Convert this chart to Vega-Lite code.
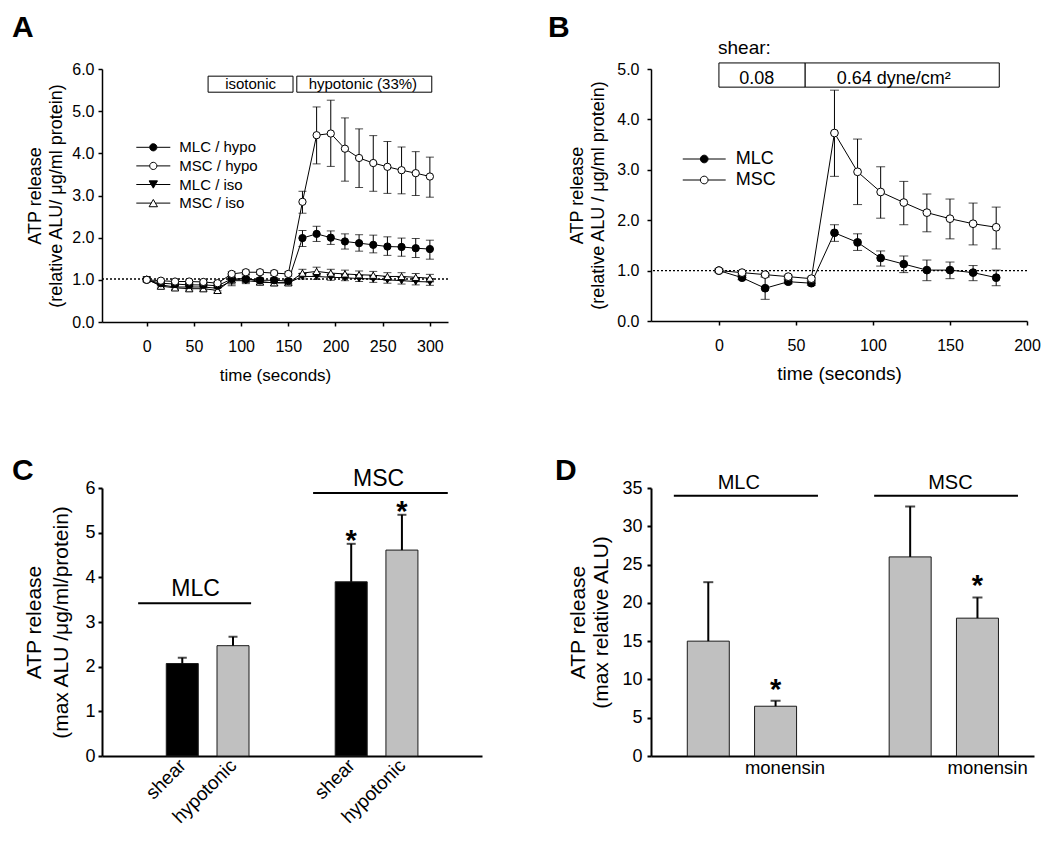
{
"$schema": "https://vega.github.io/schema/vega-lite/v6.json",
"background": "white",
"autosize": {"type": "pad"},
"padding": {"left": 12, "top": 13, "right": 5, "bottom": 5},
"columns": 2,
"spacing": {"row": 166, "column": 169},
"bounds": "flush",
"datasets": {
"A": [
{"series":"MLC / iso","t":0,"v":1.00,"lo":0.96,"hi":1.04},{"series":"MLC / iso","t":15,"v":0.88,"lo":0.83,"hi":0.93},{"series":"MLC / iso","t":30,"v":0.83,"lo":0.78,"hi":0.88},{"series":"MLC / iso","t":45,"v":0.83,"lo":0.78,"hi":0.88},{"series":"MLC / iso","t":60,"v":0.83,"lo":0.78,"hi":0.88},{"series":"MLC / iso","t":75,"v":0.80,"lo":0.74,"hi":0.86},{"series":"MLC / iso","t":90,"v":0.98,"lo":0.90,"hi":1.06},{"series":"MLC / iso","t":105,"v":0.98,"lo":0.91,"hi":1.05},{"series":"MLC / iso","t":120,"v":0.95,"lo":0.89,"hi":1.01},{"series":"MLC / iso","t":135,"v":0.93,"lo":0.87,"hi":0.99},{"series":"MLC / iso","t":150,"v":0.93,"lo":0.88,"hi":0.98},{"series":"MLC / iso","t":165,"v":1.08,"lo":1.02,"hi":1.14},{"series":"MLC / iso","t":180,"v":1.08,"lo":1.01,"hi":1.15},{"series":"MLC / iso","t":195,"v":1.06,"lo":0.99,"hi":1.13},{"series":"MLC / iso","t":210,"v":1.05,"lo":0.98,"hi":1.12},{"series":"MLC / iso","t":225,"v":1.03,"lo":0.96,"hi":1.10},{"series":"MLC / iso","t":240,"v":1.02,"lo":0.94,"hi":1.10},{"series":"MLC / iso","t":255,"v":1.00,"lo":0.92,"hi":1.08},{"series":"MLC / iso","t":270,"v":0.98,"lo":0.90,"hi":1.06},{"series":"MLC / iso","t":285,"v":0.96,"lo":0.88,"hi":1.04},{"series":"MLC / iso","t":300,"v":0.95,"lo":0.87,"hi":1.03},
{"series":"MSC / iso","t":0,"v":1.02,"lo":0.98,"hi":1.06},{"series":"MSC / iso","t":15,"v":0.85,"lo":0.80,"hi":0.90},{"series":"MSC / iso","t":30,"v":0.81,"lo":0.76,"hi":0.86},{"series":"MSC / iso","t":45,"v":0.79,"lo":0.74,"hi":0.84},{"series":"MSC / iso","t":60,"v":0.79,"lo":0.74,"hi":0.84},{"series":"MSC / iso","t":75,"v":0.75,"lo":0.69,"hi":0.81},{"series":"MSC / iso","t":90,"v":1.00,"lo":0.86,"hi":1.14},{"series":"MSC / iso","t":105,"v":1.04,"lo":0.94,"hi":1.14},{"series":"MSC / iso","t":120,"v":0.95,"lo":0.88,"hi":1.02},{"series":"MSC / iso","t":135,"v":0.93,"lo":0.86,"hi":1.00},{"series":"MSC / iso","t":150,"v":0.93,"lo":0.87,"hi":0.99},{"series":"MSC / iso","t":165,"v":1.16,"lo":1.07,"hi":1.25},{"series":"MSC / iso","t":180,"v":1.20,"lo":1.10,"hi":1.30},{"series":"MSC / iso","t":195,"v":1.16,"lo":1.07,"hi":1.25},{"series":"MSC / iso","t":210,"v":1.14,"lo":1.05,"hi":1.23},{"series":"MSC / iso","t":225,"v":1.12,"lo":1.03,"hi":1.21},{"series":"MSC / iso","t":240,"v":1.11,"lo":1.02,"hi":1.20},{"series":"MSC / iso","t":255,"v":1.08,"lo":0.99,"hi":1.17},{"series":"MSC / iso","t":270,"v":1.08,"lo":0.99,"hi":1.17},{"series":"MSC / iso","t":285,"v":1.06,"lo":0.97,"hi":1.15},{"series":"MSC / iso","t":300,"v":1.04,"lo":0.95,"hi":1.13},
{"series":"MLC / hypo","t":0,"v":1.00,"lo":0.97,"hi":1.03},{"series":"MLC / hypo","t":15,"v":0.92,"lo":0.87,"hi":0.97},{"series":"MLC / hypo","t":30,"v":0.90,"lo":0.85,"hi":0.95},{"series":"MLC / hypo","t":45,"v":0.88,"lo":0.83,"hi":0.93},{"series":"MLC / hypo","t":60,"v":0.88,"lo":0.83,"hi":0.93},{"series":"MLC / hypo","t":75,"v":0.86,"lo":0.81,"hi":0.91},{"series":"MLC / hypo","t":90,"v":1.02,"lo":0.95,"hi":1.09},{"series":"MLC / hypo","t":105,"v":1.02,"lo":0.95,"hi":1.09},{"series":"MLC / hypo","t":120,"v":0.99,"lo":0.93,"hi":1.05},{"series":"MLC / hypo","t":135,"v":0.99,"lo":0.93,"hi":1.05},{"series":"MLC / hypo","t":150,"v":0.97,"lo":0.92,"hi":1.02},{"series":"MLC / hypo","t":165,"v":1.99,"lo":1.79,"hi":2.17},{"series":"MLC / hypo","t":180,"v":2.09,"lo":1.91,"hi":2.27},{"series":"MLC / hypo","t":195,"v":2.00,"lo":1.84,"hi":2.16},{"series":"MLC / hypo","t":210,"v":1.91,"lo":1.73,"hi":2.09},{"series":"MLC / hypo","t":225,"v":1.87,"lo":1.68,"hi":2.07},{"series":"MLC / hypo","t":240,"v":1.83,"lo":1.64,"hi":2.06},{"series":"MLC / hypo","t":255,"v":1.79,"lo":1.58,"hi":2.02},{"series":"MLC / hypo","t":270,"v":1.78,"lo":1.56,"hi":1.99},{"series":"MLC / hypo","t":285,"v":1.75,"lo":1.53,"hi":1.98},{"series":"MLC / hypo","t":300,"v":1.73,"lo":1.49,"hi":1.94},
{"series":"MSC / hypo","t":0,"v":1.00,"lo":0.97,"hi":1.03},{"series":"MSC / hypo","t":15,"v":0.98,"lo":0.94,"hi":1.02},{"series":"MSC / hypo","t":30,"v":0.96,"lo":0.92,"hi":1.00},{"series":"MSC / hypo","t":45,"v":0.96,"lo":0.92,"hi":1.00},{"series":"MSC / hypo","t":60,"v":0.95,"lo":0.91,"hi":0.99},{"series":"MSC / hypo","t":75,"v":0.92,"lo":0.88,"hi":0.96},{"series":"MSC / hypo","t":90,"v":1.14,"lo":1.09,"hi":1.19},{"series":"MSC / hypo","t":105,"v":1.18,"lo":1.13,"hi":1.23},{"series":"MSC / hypo","t":120,"v":1.18,"lo":1.13,"hi":1.23},{"series":"MSC / hypo","t":135,"v":1.16,"lo":1.11,"hi":1.21},{"series":"MSC / hypo","t":150,"v":1.14,"lo":1.09,"hi":1.19},{"series":"MSC / hypo","t":165,"v":2.85,"lo":2.58,"hi":3.10},{"series":"MSC / hypo","t":180,"v":4.43,"lo":3.75,"hi":5.10},{"series":"MSC / hypo","t":195,"v":4.47,"lo":3.69,"hi":5.26},{"series":"MSC / hypo","t":210,"v":4.11,"lo":3.34,"hi":4.84},{"series":"MSC / hypo","t":225,"v":3.89,"lo":3.19,"hi":4.58},{"series":"MSC / hypo","t":240,"v":3.77,"lo":3.10,"hi":4.42},{"series":"MSC / hypo","t":255,"v":3.68,"lo":3.05,"hi":4.28},{"series":"MSC / hypo","t":270,"v":3.60,"lo":3.04,"hi":4.15},{"series":"MSC / hypo","t":285,"v":3.53,"lo":3.00,"hi":4.04},{"series":"MSC / hypo","t":300,"v":3.45,"lo":2.96,"hi":3.91}
],
"Abox": [
{"label":"isotonic","x1":65,"x2":155,"y1":5.45,"y2":5.83,"tx":110,"ty":5.64},
{"label":"hypotonic (33%)","x1":159,"x2":302,"y1":5.45,"y2":5.83,"tx":229,"ty":5.64}
],
"B": [
{"series":"MLC","t":0,"v":1.00,"lo":0.97,"hi":1.03},{"series":"MLC","t":15,"v":0.86,"lo":0.82,"hi":0.90},{"series":"MLC","t":30,"v":0.65,"lo":0.43,"hi":0.87},{"series":"MLC","t":45,"v":0.78,"lo":0.74,"hi":0.82},{"series":"MLC","t":60,"v":0.75,"lo":0.71,"hi":0.79},{"series":"MLC","t":75,"v":1.75,"lo":1.58,"hi":1.91},{"series":"MLC","t":90,"v":1.56,"lo":1.40,"hi":1.73},{"series":"MLC","t":105,"v":1.25,"lo":1.09,"hi":1.39},{"series":"MLC","t":120,"v":1.13,"lo":0.96,"hi":1.29},{"series":"MLC","t":135,"v":1.01,"lo":0.80,"hi":1.21},{"series":"MLC","t":150,"v":1.01,"lo":0.84,"hi":1.17},{"series":"MLC","t":165,"v":0.96,"lo":0.80,"hi":1.10},{"series":"MLC","t":180,"v":0.86,"lo":0.70,"hi":1.01},
{"series":"MSC","t":0,"v":1.00,"lo":0.97,"hi":1.03},{"series":"MSC","t":15,"v":0.96,"lo":0.93,"hi":0.99},{"series":"MSC","t":30,"v":0.92,"lo":0.89,"hi":0.95},{"series":"MSC","t":45,"v":0.88,"lo":0.85,"hi":0.91},{"series":"MSC","t":60,"v":0.84,"lo":0.81,"hi":0.87},{"series":"MSC","t":75,"v":3.73,"lo":2.87,"hi":4.58},{"series":"MSC","t":90,"v":2.96,"lo":2.31,"hi":3.61},{"series":"MSC","t":105,"v":2.56,"lo":2.04,"hi":3.06},{"series":"MSC","t":120,"v":2.35,"lo":1.91,"hi":2.77},{"series":"MSC","t":135,"v":2.15,"lo":1.77,"hi":2.52},{"series":"MSC","t":150,"v":2.03,"lo":1.63,"hi":2.42},{"series":"MSC","t":165,"v":1.93,"lo":1.51,"hi":2.34},{"series":"MSC","t":180,"v":1.86,"lo":1.43,"hi":2.26}
],
"Bbox": [
{"label":"0.08","x1":0,"x2":56,"y1":4.64,"y2":5.12,"tx":24.5,"ty":4.81},
{"label":"0.64 dyne/cm²","x1":56,"x2":182,"y1":4.64,"y2":5.12,"tx":113.5,"ty":4.81}
],
"Bnote": [{"label":"shear:","tx":-0.6,"ty":5.42}],
"C": [
{"cell":"MLC","cond":"shear","p":1,"v":2.07,"hi":2.2,"sig":""},
{"cell":"MLC","cond":"hypotonic","p":2,"v":2.47,"hi":2.67,"sig":""},
{"cell":"MSC","cond":"shear","p":4.33,"v":3.9,"hi":4.75,"sig":"*"},
{"cell":"MSC","cond":"hypotonic","p":5.33,"v":4.61,"hi":5.40,"sig":"*"}
],
"Cgrp": [
{"label":"MLC","x1":0.13,"x2":2.357,"ly":3.42,"tx":1.263,"ty":3.73},
{"label":"MSC","x1":3.579,"x2":6.234,"ly":5.89,"tx":4.871,"ty":6.21}
],
"D": [
{"cell":"MLC","cond":"control","p":1,"v":15.0,"hi":22.7,"sig":""},
{"cell":"MLC","cond":"monensin","p":2,"v":6.5,"hi":7.2,"sig":"*"},
{"cell":"MSC","cond":"control","p":4,"v":26.0,"hi":32.6,"sig":""},
{"cell":"MSC","cond":"monensin","p":5,"v":18.0,"hi":20.7,"sig":"*"}
],
"Dgrp": [
{"label":"MLC","x1":0.488,"x2":2.63,"ly":34.0,"tx":1.453,"ty":35.7},
{"label":"MSC","x1":3.465,"x2":5.602,"ly":34.0,"tx":4.598,"ty":35.7}
]
},
"concat": [
{
"width": 346, "height": 253,
"title": {"text":"A","anchor":"start","frame":"group","dx":-90,"offset":-6,"baseline":"alphabetic","fontSize":30,"fontWeight":"bold","color":"black","font":"Liberation Sans"},
"resolve": {"scale": {"shape":"independent","fill":"independent","size":"independent"}},
"layer": [
{"data":{"name":"A"},"mark":{"type":"line","color":"black","strokeWidth":1},
"encoding":{
"x":{"field":"t","type":"quantitative","scale":{"domain":[-47.4,319.2],"nice":false,"zero":false},"axis":{"values":[0,50,100,150,200,250,300],"title":"time (seconds)","labelPadding":12,"titlePadding":13}},
"y":{"field":"v","type":"quantitative","scale":{"domain":[0,6],"nice":false,"zero":false},"axis":{"values":[0,1,2,3,4,5,6],"tickCount":7,"format":".1f","title":["ATP release","(relative ALU/ μg/ml protein)"],"titleFontSize":18,"titleLineHeight":21.5,"titlePadding":6,"labelPadding":4}},
"detail":{"field":"series","type":"nominal"}}},
{"data":{"values":[{"ref":1.02}]},"mark":{"type":"rule","stroke":"black","strokeWidth":1.3,"strokeDash":[2,2]},"encoding":{"y":{"field":"ref","type":"quantitative"}}},
{"data":{"name":"A"},"mark":{"type":"rule","stroke":"black","strokeWidth":1},"encoding":{"x":{"field":"t","type":"quantitative"},"y":{"field":"lo","type":"quantitative"},"y2":{"field":"hi"}}},
{"data":{"name":"A"},"mark":{"type":"tick","orient":"horizontal","size":8,"thickness":1,"color":"black"},"encoding":{"x":{"field":"t","type":"quantitative"},"y":{"field":"lo","type":"quantitative"}}},
{"data":{"name":"A"},"mark":{"type":"tick","orient":"horizontal","size":8,"thickness":1,"color":"black"},"encoding":{"x":{"field":"t","type":"quantitative"},"y":{"field":"hi","type":"quantitative"}}},
{"data":{"name":"A"},"mark":{"type":"point","filled":true,"stroke":"black","strokeWidth":1,"opacity":1},
"encoding":{"x":{"field":"t","type":"quantitative"},"y":{"field":"v","type":"quantitative"},
"shape":{"field":"series","type":"nominal","scale":{"domain":["MLC / hypo","MSC / hypo","MLC / iso","MSC / iso"],"range":["circle","circle","triangle-down","triangle-up"]},"legend":null},
"fill":{"field":"series","type":"nominal","scale":{"domain":["MLC / hypo","MSC / hypo","MLC / iso","MSC / iso"],"range":["black","white","black","white"]},"legend":null},
"size":{"field":"series","type":"nominal","scale":{"domain":["MLC / hypo","MSC / hypo","MLC / iso","MSC / iso"],"range":[53,53,70,70]},"legend":null}}},
{"data":{"name":"A"},"mark":{"type":"point","filled":true,"stroke":"black","strokeWidth":1,"opacity":0,"size":1156},
"encoding":{"x":{"field":"t","type":"quantitative"},"y":{"field":"v","type":"quantitative"},
"shape":{"field":"series","type":"nominal","scale":{"domain":["MLC / hypo","MSC / hypo","MLC / iso","MSC / iso"],"range":["M-1,0H-0.212M0.212,0H1M0.212,0A0.212,0.212,0,1,1,-0.212,0A0.212,0.212,0,1,1,0.212,0Z","M-1,0H-0.212M0.212,0H1M0.212,0A0.212,0.212,0,1,1,-0.212,0A0.212,0.212,0,1,1,0.212,0Z","M-1,0H-0.124M0.124,0H1M-0.247,-0.214L0.247,-0.214L0,0.214Z","M-1,0H-0.124M0.124,0H1M-0.247,0.214L0.247,0.214L0,-0.214Z"]},
"legend":{"orient":"none","legendX":33.8,"legendY":70.3,"title":null,"padding":0,"clipHeight":16,"rowPadding":2.6,"labelOffset":8.5,"labelFontSize":15,"labelFont":"Liberation Sans","labelColor":"black","symbolSize":1156,"symbolStrokeColor":"black","symbolStrokeWidth":1,"symbolOpacity":1,"encode":{"symbols":{"update":{"stroke":{"value":"black"},"strokeWidth":{"value":1},"opacity":{"value":1}}}}}},
"fill":{"field":"series","type":"nominal","scale":{"domain":["MLC / hypo","MSC / hypo","MLC / iso","MSC / iso"],"range":["black","white","black","white"]},
"legend":{"orient":"none","legendX":33.8,"legendY":70.3,"title":null,"padding":0,"clipHeight":16,"rowPadding":2.6,"labelOffset":8.5,"labelFontSize":15,"labelFont":"Liberation Sans","labelColor":"black","symbolSize":1156,"symbolStrokeColor":"black","symbolStrokeWidth":1,"symbolOpacity":1,"encode":{"symbols":{"update":{"stroke":{"value":"black"},"strokeWidth":{"value":1},"opacity":{"value":1}}}}}}}},
{"data":{"name":"Abox"},"mark":{"type":"rect","fill":"white","stroke":"black","strokeWidth":1},"encoding":{"x":{"field":"x1","type":"quantitative"},"x2":{"field":"x2"},"y":{"field":"y1","type":"quantitative"},"y2":{"field":"y2"}}},
{"data":{"name":"Abox"},"mark":{"type":"text","fontSize":15,"align":"center","baseline":"middle","color":"black"},"encoding":{"x":{"field":"tx","type":"quantitative"},"y":{"field":"ty","type":"quantitative"},"text":{"field":"label"}}}
]
},
{
"width": 376, "height": 252,
"title": {"text":"B","anchor":"start","frame":"group","dx":-103,"offset":-28.2,"baseline":"alphabetic","fontSize":30,"fontWeight":"bold","color":"black","font":"Liberation Sans"},
"resolve": {"scale": {"shape":"independent","fill":"independent"}},
"layer": [
{"data":{"name":"B"},"mark":{"type":"line","color":"black","strokeWidth":1},
"encoding":{
"x":{"field":"t","type":"quantitative","scale":{"domain":[-44.1,200],"nice":false,"zero":false},"axis":{"values":[0,50,100,150,200],"title":"time (seconds)","titleFontSize":19,"labelPadding":12.5,"titlePadding":11}},
"y":{"field":"v","type":"quantitative","scale":{"domain":[0,5],"nice":false,"zero":false},"axis":{"values":[0,1,2,3,4,5],"tickCount":6,"format":".1f","title":["ATP release","(relative ALU / μg/ml protein)"],"titleFontSize":18,"titleLineHeight":21.5,"titlePadding":9,"labelPadding":8}},
"detail":{"field":"series","type":"nominal"}}},
{"data":{"values":[{"ref":1.0}]},"mark":{"type":"rule","stroke":"black","strokeWidth":1.3,"strokeDash":[2,2]},"encoding":{"y":{"field":"ref","type":"quantitative"}}},
{"data":{"name":"B"},"mark":{"type":"rule","stroke":"black","strokeWidth":1},"encoding":{"x":{"field":"t","type":"quantitative"},"y":{"field":"lo","type":"quantitative"},"y2":{"field":"hi"}}},
{"data":{"name":"B"},"mark":{"type":"tick","orient":"horizontal","size":9,"thickness":1,"color":"black"},"encoding":{"x":{"field":"t","type":"quantitative"},"y":{"field":"lo","type":"quantitative"}}},
{"data":{"name":"B"},"mark":{"type":"tick","orient":"horizontal","size":9,"thickness":1,"color":"black"},"encoding":{"x":{"field":"t","type":"quantitative"},"y":{"field":"hi","type":"quantitative"}}},
{"data":{"name":"B"},"mark":{"type":"point","filled":true,"shape":"circle","size":60,"stroke":"black","strokeWidth":1,"opacity":1},
"encoding":{"x":{"field":"t","type":"quantitative"},"y":{"field":"v","type":"quantitative"},
"fill":{"field":"series","type":"nominal","scale":{"domain":["MLC","MSC"],"range":["black","white"]},"legend":null}}},
{"data":{"name":"B"},"mark":{"type":"point","filled":true,"stroke":"black","strokeWidth":1,"opacity":0,"size":1849},
"encoding":{"x":{"field":"t","type":"quantitative"},"y":{"field":"v","type":"quantitative"},
"shape":{"field":"series","type":"nominal","scale":{"domain":["MLC","MSC"],"range":["M-1,0H-0.179M0.179,0H1M0.179,0A0.179,0.179,0,1,1,-0.179,0A0.179,0.179,0,1,1,0.179,0Z","M-1,0H-0.179M0.179,0H1M0.179,0A0.179,0.179,0,1,1,-0.179,0A0.179,0.179,0,1,1,0.179,0Z"]},
"legend":{"orient":"none","legendX":31.2,"legendY":81,"title":null,"padding":0,"clipHeight":18,"rowPadding":3,"labelOffset":9.5,"labelFontSize":18,"labelFont":"Liberation Sans","labelColor":"black","symbolSize":1849,"symbolStrokeColor":"black","symbolStrokeWidth":1,"symbolOpacity":1,"encode":{"symbols":{"update":{"stroke":{"value":"black"},"strokeWidth":{"value":1},"opacity":{"value":1}}}}}},
"fill":{"field":"series","type":"nominal","scale":{"domain":["MLC","MSC"],"range":["black","white"]},
"legend":{"orient":"none","legendX":31.2,"legendY":81,"title":null,"padding":0,"clipHeight":18,"rowPadding":3,"labelOffset":9.5,"labelFontSize":18,"labelFont":"Liberation Sans","labelColor":"black","symbolSize":1849,"symbolStrokeColor":"black","symbolStrokeWidth":1,"symbolOpacity":1,"encode":{"symbols":{"update":{"stroke":{"value":"black"},"strokeWidth":{"value":1},"opacity":{"value":1}}}}}}}},
{"data":{"name":"Bbox"},"mark":{"type":"rect","fill":"white","stroke":"black","strokeWidth":1},"encoding":{"x":{"field":"x1","type":"quantitative"},"x2":{"field":"x2"},"y":{"field":"y1","type":"quantitative"},"y2":{"field":"y2"}}},
{"data":{"name":"Bbox"},"mark":{"type":"text","fontSize":18,"align":"center","baseline":"middle","color":"black"},"encoding":{"x":{"field":"tx","type":"quantitative"},"y":{"field":"ty","type":"quantitative"},"text":{"field":"label"}}},
{"data":{"name":"Bnote"},"mark":{"type":"text","fontSize":19,"align":"left","baseline":"middle","color":"black"},"encoding":{"x":{"field":"tx","type":"quantitative"},"y":{"field":"ty","type":"quantitative"},"text":{"field":"label"}}}
]
},
{
"width": 380, "height": 268,
"title": {"text":"C","anchor":"start","frame":"group","dx":-90,"offset":-42.4,"baseline":"alphabetic","fontSize":30,"fontWeight":"bold","color":"black","font":"Liberation Sans"},
"layer": [
{"data":{"name":"C"},"mark":{"type":"bar","width":32,"stroke":"#1a1a1a","strokeWidth":1},
"encoding":{
"x":{"field":"p","type":"quantitative","scale":{"domain":[-0.484,6.81],"nice":false,"zero":false},"axis":{"values":[1,2,4.33,5.33],"labelExpr":"datum.value < 1.5 || (datum.value > 4 && datum.value < 5) ? 'shear' : 'hypotonic'","ticks":false,"tickSize":0,"labelAngle":-45,"labelAlign":"right","labelBaseline":"middle","labelFontSize":19,"labelPadding":6,"title":null,"domainWidth":2}},
"y":{"field":"v","type":"quantitative","scale":{"domain":[0,6],"nice":false,"zero":true},"axis":{"values":[0,1,2,3,4,5,6],"tickCount":7,"format":"d","title":["ATP release","(max ALU /μg/ml/protein)"],"titleFontSize":21,"titleLineHeight":27,"titlePadding":13,"labelFontSize":18,"labelPadding":3,"domainWidth":2,"tickWidth":2}},
"fill":{"field":"cond","type":"nominal","scale":{"domain":["shear","hypotonic"],"range":["black","#c0c0c0"]},"legend":null}}},
{"data":{"name":"C"},"mark":{"type":"rule","stroke":"black","strokeWidth":2},"encoding":{"x":{"field":"p","type":"quantitative"},"y":{"field":"v","type":"quantitative"},"y2":{"field":"hi"}}},
{"data":{"name":"C"},"mark":{"type":"tick","orient":"horizontal","size":9,"thickness":2,"color":"black"},"encoding":{"x":{"field":"p","type":"quantitative"},"y":{"field":"hi","type":"quantitative"}}},
{"data":{"name":"C"},"mark":{"type":"text","fontSize":29,"fontWeight":"bold","align":"center","baseline":"alphabetic","dy":6,"color":"black"},"encoding":{"x":{"field":"p","type":"quantitative"},"y":{"field":"hi","type":"quantitative"},"text":{"field":"sig"}}},
{"data":{"name":"Cgrp"},"mark":{"type":"rule","stroke":"black","strokeWidth":2},"encoding":{"x":{"field":"x1","type":"quantitative"},"x2":{"field":"x2"},"y":{"field":"ly","type":"quantitative"}}},
{"data":{"name":"Cgrp"},"mark":{"type":"text","fontSize":23,"align":"center","baseline":"middle","color":"black"},"encoding":{"x":{"field":"tx","type":"quantitative"},"y":{"field":"ty","type":"quantitative"},"text":{"field":"label"}}}
]
},
{
"width": 383, "height": 268,
"title": {"text":"D","anchor":"start","frame":"group","dx":-96,"offset":-37.4,"baseline":"alphabetic","fontSize":30,"fontWeight":"bold","color":"black","font":"Liberation Sans"},
"layer": [
{"data":{"name":"D"},"mark":{"type":"bar","width":42,"fill":"#c0c0c0","stroke":"#1a1a1a","strokeWidth":1},
"encoding":{
"x":{"field":"p","type":"quantitative","scale":{"domain":[0.223,5.766],"nice":false,"zero":false},"axis":{"values":[2.133,5.143],"labelExpr":"'monensin'","ticks":false,"tickSize":0,"labelFontSize":18.5,"labelPadding":2.5,"title":null,"domainWidth":2}},
"y":{"field":"v","type":"quantitative","scale":{"domain":[0,35],"nice":false,"zero":true},"axis":{"values":[0,5,10,15,20,25,30,35],"tickCount":8,"format":"d","title":["ATP release","(max relative ALU)"],"titleFontSize":21,"titleLineHeight":23.5,"titlePadding":10,"labelFontSize":18,"labelPadding":5,"domainWidth":2,"tickWidth":2}}}},
{"data":{"name":"D"},"mark":{"type":"rule","stroke":"black","strokeWidth":2},"encoding":{"x":{"field":"p","type":"quantitative"},"y":{"field":"v","type":"quantitative"},"y2":{"field":"hi"}}},
{"data":{"name":"D"},"mark":{"type":"tick","orient":"horizontal","size":10,"thickness":2,"color":"black"},"encoding":{"x":{"field":"p","type":"quantitative"},"y":{"field":"hi","type":"quantitative"}}},
{"data":{"name":"D"},"mark":{"type":"text","fontSize":29,"fontWeight":"bold","align":"center","baseline":"alphabetic","dy":-2,"color":"black"},"encoding":{"x":{"field":"p","type":"quantitative"},"y":{"field":"hi","type":"quantitative"},"text":{"field":"sig"}}},
{"data":{"name":"Dgrp"},"mark":{"type":"rule","stroke":"black","strokeWidth":2},"encoding":{"x":{"field":"x1","type":"quantitative"},"x2":{"field":"x2"},"y":{"field":"ly","type":"quantitative"}}},
{"data":{"name":"Dgrp"},"mark":{"type":"text","fontSize":20,"align":"center","baseline":"middle","color":"black"},"encoding":{"x":{"field":"tx","type":"quantitative"},"y":{"field":"ty","type":"quantitative"},"text":{"field":"label"}}}
]
}
],
"config": {
"font": "Liberation Sans",
"view": {"stroke": null},
"axis": {"grid": false, "domainColor": "black", "domainWidth": 1.5, "tickColor": "black", "tickWidth": 1.5, "tickSize": 4, "labelColor": "black", "titleColor": "black", "labelFont": "Liberation Sans", "titleFont": "Liberation Sans", "titleFontWeight": "normal", "labelFontSize": 16, "titleFontSize": 17, "labelFlush": false, "labelOverlap": false},
"text": {"font": "Liberation Sans"},
"legend": {"labelFont": "Liberation Sans", "labelColor": "black"}
}
}
